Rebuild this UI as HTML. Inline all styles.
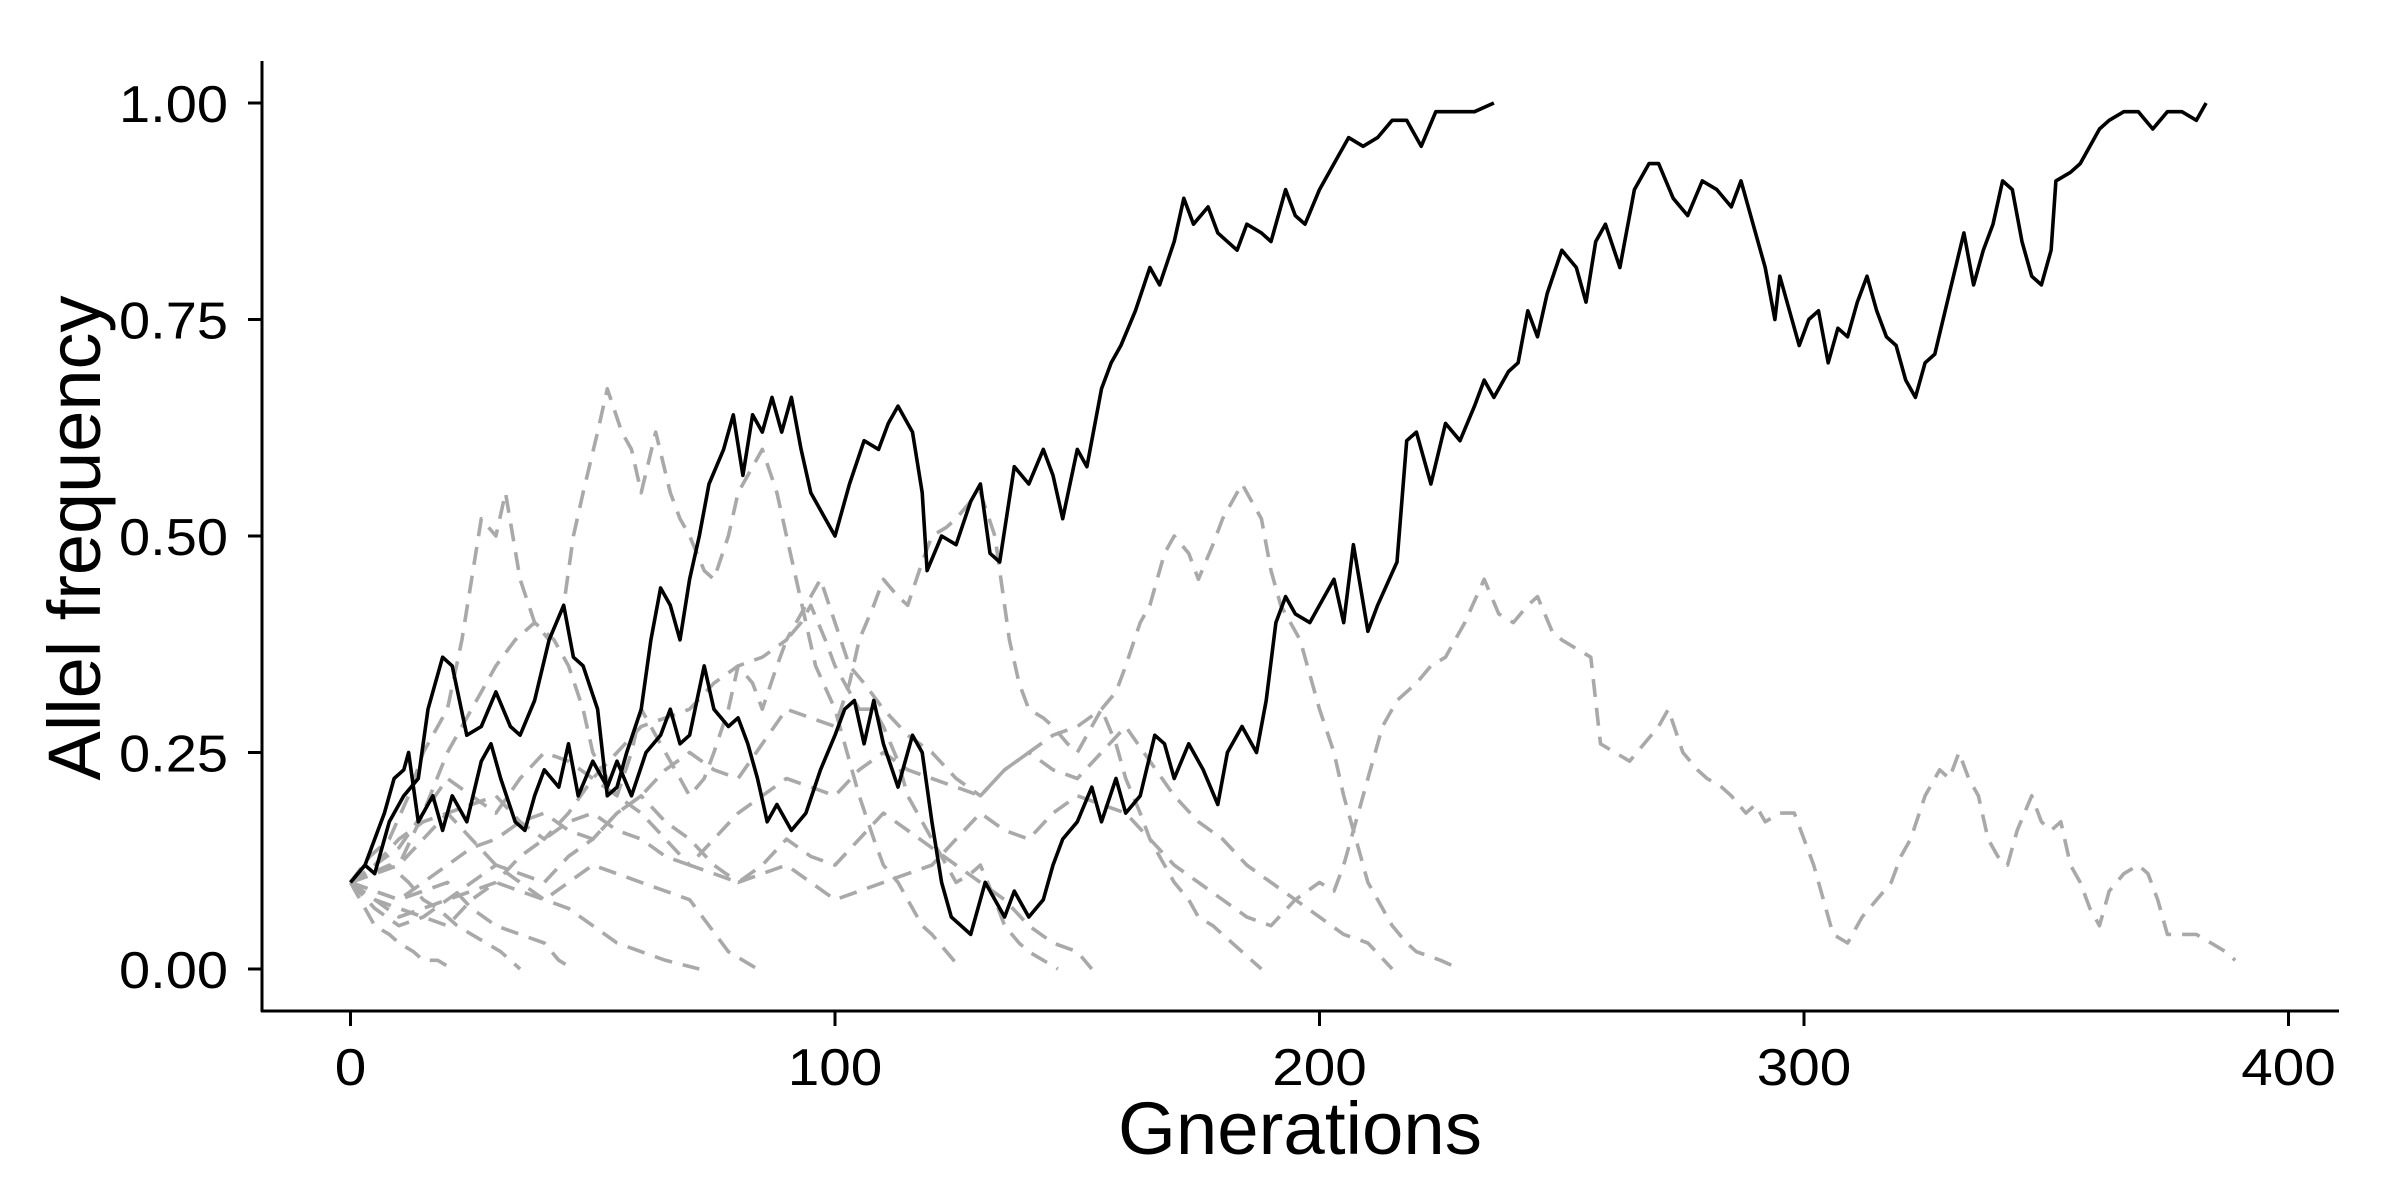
<!DOCTYPE html>
<html><head><meta charset="utf-8"><style>
html,body{margin:0;padding:0;background:#fff;}
svg{display:block;}
text{font-family:"Liberation Sans",Arial,sans-serif;fill:#000;}
</style></head><body>
<svg id="chart" width="2400" height="1200" viewBox="0 0 2400 1200" xmlns="http://www.w3.org/2000/svg">
<rect x="0" y="0" width="2400" height="1200" fill="#fff"/>
<g id="grayLayer"></g>
<g id="blackLayer"></g>
<g id="axes"></g>
<text x="1300" y="1154" font-size="74" text-anchor="middle" textLength="364" lengthAdjust="spacingAndGlyphs">Gnerations</text>
<text transform="translate(100,538) rotate(-90)" font-size="74" text-anchor="middle" textLength="485" lengthAdjust="spacingAndGlyphs">Allel frequency</text>
</svg>
<script>
const xTicks = [0, 100, 200, 300, 400];
const yTicks = [0, 0.25, 0.5, 0.75, 1.0];
const yTickLabels = ["0.00", "0.25", "0.50", "0.75", "1.00"];

const fixedA = [[0,0.10],[3,0.12],[5,0.11],[8,0.17],[11,0.20],[14,0.22],[16,0.30],[19,0.36],[21,0.35],[24,0.27],[27,0.28],[30,0.32],[33,0.28],[35,0.27],[38,0.31],[41,0.38],[44,0.42],[46,0.36],[48,0.35],[51,0.30],[53,0.20],[55,0.21],[57,0.25],[60,0.30],[62,0.38],[64,0.44],[66,0.42],[68,0.38],[70,0.45],[72,0.50],[74,0.56],[77,0.60],[79,0.64],[81,0.57],[83,0.64],[85,0.62],[87,0.66],[89,0.62],[91,0.66],[93,0.60],[95,0.55],[98,0.52],[100,0.50],[103,0.56],[106,0.61],[109,0.60],[111,0.63],[113,0.65],[116,0.62],[118,0.55],[119,0.46],[122,0.50],[125,0.49],[128,0.54],[130,0.56],[132,0.48],[134,0.47],[137,0.58],[140,0.56],[143,0.60],[145,0.57],[147,0.52],[150,0.60],[152,0.58],[155,0.67],[157,0.70],[159,0.72],[162,0.76],[165,0.81],[167,0.79],[170,0.84],[172,0.89],[174,0.86],[177,0.88],[179,0.85],[181,0.84],[183,0.83],[185,0.86],[188,0.85],[190,0.84],[193,0.90],[195,0.87],[197,0.86],[200,0.90],[203,0.93],[206,0.96],[209,0.95],[212,0.96],[215,0.98],[218,0.98],[221,0.95],[224,0.99],[226,0.99],[229,0.99],[232,0.99],[236,1.00]];

const fixedB = [[0,0.10],[3,0.12],[5,0.15],[7,0.18],[9,0.22],[11,0.23],[12,0.25],[14,0.17],[17,0.20],[19,0.16],[21,0.20],[24,0.17],[27,0.24],[29,0.26],[31,0.22],[34,0.17],[36,0.16],[38,0.20],[40,0.23],[43,0.21],[45,0.26],[47,0.20],[50,0.24],[53,0.21],[55,0.24],[58,0.20],[61,0.25],[64,0.27],[66,0.30],[68,0.26],[70,0.27],[73,0.35],[75,0.30],[78,0.28],[80,0.29],[82,0.26],[84,0.22],[86,0.17],[88,0.19],[91,0.16],[94,0.18],[97,0.23],[100,0.27],[102,0.30],[104,0.31],[106,0.26],[108,0.31],[110,0.26],[113,0.21],[116,0.27],[118,0.25],[120,0.17],[122,0.10],[124,0.06],[126,0.05],[128,0.04],[131,0.10],[133,0.08],[135,0.06],[137,0.09],[140,0.06],[143,0.08],[145,0.12],[147,0.15],[150,0.17],[153,0.21],[155,0.17],[158,0.22],[160,0.18],[163,0.20],[166,0.27],[168,0.26],[170,0.22],[173,0.26],[176,0.23],[179,0.19],[181,0.25],[184,0.28],[187,0.25],[189,0.31],[191,0.40],[193,0.43],[195,0.41],[198,0.40],[201,0.43],[203,0.45],[205,0.40],[207,0.49],[210,0.39],[212,0.42],[216,0.47],[218,0.61],[220,0.62],[223,0.56],[226,0.63],[229,0.61],[232,0.65],[234,0.68],[236,0.66],[239,0.69],[241,0.70],[243,0.76],[245,0.73],[247,0.78],[250,0.83],[253,0.81],[255,0.77],[257,0.84],[259,0.86],[262,0.81],[265,0.90],[268,0.93],[270,0.93],[273,0.89],[276,0.87],[279,0.91],[282,0.90],[285,0.88],[287,0.91],[290,0.85],[292,0.81],[294,0.75],[295,0.80],[297,0.76],[299,0.72],[301,0.75],[303,0.76],[305,0.70],[307,0.74],[309,0.73],[311,0.77],[313,0.80],[315,0.76],[317,0.73],[319,0.72],[321,0.68],[323,0.66],[325,0.70],[327,0.71],[330,0.78],[333,0.85],[335,0.79],[337,0.83],[339,0.86],[341,0.91],[343,0.90],[345,0.84],[347,0.80],[349,0.79],[351,0.83],[352,0.91],[355,0.92],[357,0.93],[359,0.95],[361,0.97],[363,0.98],[366,0.99],[369,0.99],[372,0.97],[375,0.99],[378,0.99],[381,0.98],[383,1.00]];

const lost1 = [[0,0.10],[4,0.13],[8,0.15],[12,0.20],[15,0.25],[18,0.28],[20,0.30],[23,0.38],[25,0.45],[27,0.52],[30,0.50],[32,0.55],[35,0.45],[38,0.40],[41,0.38],[44,0.42],[46,0.50],[48,0.55],[51,0.62],[53,0.67],[56,0.62],[58,0.60],[60,0.55],[63,0.62],[66,0.55],[68,0.52],[70,0.50],[73,0.46],[75,0.45],[78,0.50],[80,0.55],[83,0.58],[85,0.60],[88,0.55],[90,0.50],[92,0.45],[94,0.40],[96,0.35],[100,0.30],[103,0.24],[105,0.20],[108,0.15],[110,0.12],[113,0.10],[115,0.08],[118,0.05],[120,0.04],[123,0.02],[126,0.00]];
const lost2 = [[0,0.10],[5,0.11],[10,0.12],[15,0.18],[20,0.25],[25,0.30],[30,0.35],[34,0.38],[38,0.40],[42,0.38],[45,0.35],[48,0.30],[50,0.25],[53,0.22],[55,0.20],[58,0.25],[60,0.30],[63,0.27],[65,0.25],[68,0.22],[70,0.20],[73,0.22],[75,0.25],[78,0.30],[80,0.35],[83,0.33],[85,0.30],[88,0.35],[90,0.38],[93,0.40],[95,0.42],[98,0.38],[100,0.35],[103,0.32],[105,0.30],[108,0.30],[110,0.28],[113,0.24],[115,0.20],[118,0.17],[120,0.15],[123,0.12],[125,0.10],[128,0.11],[130,0.12],[133,0.08],[135,0.05],[138,0.03],[140,0.02],[143,0.01],[146,0.00]];
const lost3 = [[0,0.10],[5,0.09],[10,0.08],[15,0.10],[20,0.12],[25,0.14],[30,0.15],[35,0.17],[40,0.18],[45,0.16],[50,0.15],[55,0.18],[60,0.20],[65,0.23],[70,0.25],[75,0.23],[80,0.22],[85,0.26],[90,0.30],[95,0.29],[100,0.28],[103,0.33],[105,0.38],[108,0.42],[110,0.45],[113,0.43],[115,0.42],[118,0.47],[120,0.50],[123,0.51],[125,0.52],[128,0.54],[130,0.55],[133,0.50],[136,0.38],[138,0.33],[140,0.30],[143,0.29],[145,0.28],[148,0.26],[150,0.25],[153,0.28],[155,0.30],[158,0.26],[160,0.22],[163,0.18],[165,0.15],[168,0.12],[170,0.10],[173,0.08],[175,0.06],[178,0.05],[180,0.04],[184,0.02],[188,0.00]];
const lost4 = [[0,0.10],[5,0.08],[10,0.06],[15,0.07],[20,0.08],[25,0.09],[30,0.10],[35,0.13],[40,0.15],[45,0.17],[50,0.18],[55,0.16],[60,0.15],[65,0.13],[70,0.12],[75,0.15],[80,0.18],[85,0.20],[90,0.22],[95,0.21],[100,0.20],[105,0.23],[110,0.25],[115,0.23],[120,0.22],[125,0.21],[130,0.20],[135,0.23],[140,0.25],[145,0.27],[150,0.28],[155,0.30],[158,0.32],[160,0.35],[163,0.40],[165,0.42],[168,0.48],[170,0.50],[173,0.48],[175,0.45],[178,0.49],[180,0.52],[184,0.56],[186,0.54],[188,0.52],[190,0.46],[192,0.42],[194,0.40],[196,0.38],[198,0.34],[200,0.30],[203,0.25],[205,0.20],[208,0.14],[210,0.10],[213,0.07],[215,0.05],[218,0.03],[220,0.02],[225,0.01],[229,0.00]];
const lost5 = [[0,0.10],[5,0.07],[10,0.05],[15,0.06],[20,0.08],[25,0.10],[30,0.12],[35,0.11],[40,0.10],[45,0.13],[50,0.15],[55,0.18],[60,0.20],[65,0.17],[70,0.15],[75,0.12],[80,0.10],[85,0.11],[90,0.12],[95,0.10],[100,0.08],[105,0.09],[110,0.10],[115,0.11],[120,0.12],[125,0.15],[130,0.18],[135,0.16],[140,0.15],[145,0.18],[150,0.20],[155,0.19],[160,0.18],[165,0.15],[170,0.12],[175,0.10],[180,0.08],[185,0.06],[190,0.05],[195,0.08],[200,0.10],[203,0.09],[205,0.12],[208,0.18],[210,0.22],[213,0.28],[216,0.31],[220,0.33],[223,0.35],[226,0.36],[230,0.40],[234,0.45],[237,0.41],[240,0.40],[243,0.42],[245,0.43],[248,0.39],[250,0.38],[253,0.37],[256,0.36],[258,0.26],[261,0.25],[264,0.24],[267,0.26],[270,0.28],[272,0.30],[275,0.25],[278,0.23],[280,0.22],[283,0.21],[285,0.20],[288,0.18],[290,0.19],[292,0.17],[295,0.18],[298,0.18],[300,0.15],[302,0.12],[304,0.08],[306,0.04],[309,0.03],[312,0.06],[315,0.08],[318,0.10],[320,0.13],[322,0.15],[325,0.20],[328,0.23],[330,0.22],[332,0.25],[334,0.22],[336,0.20],[338,0.15],[340,0.13],[342,0.12],[344,0.16],[347,0.20],[349,0.17],[351,0.16],[353,0.17],[355,0.12],[357,0.10],[359,0.07],[361,0.05],[363,0.09],[366,0.11],[369,0.12],[371,0.11],[373,0.08],[375,0.04],[378,0.04],[381,0.04],[384,0.03],[387,0.02],[389,0.01]];
const lost6 = [[0,0.10],[3,0.07],[5,0.05],[8,0.04],[10,0.03],[13,0.02],[15,0.01],[18,0.01],[21,0.00]];
const lost7 = [[0,0.10],[4,0.11],[8,0.12],[12,0.10],[15,0.08],[18,0.07],[22,0.05],[25,0.04],[28,0.03],[31,0.02],[35,0.00]];
const lost8 = [[0,0.10],[5,0.12],[10,0.15],[15,0.17],[20,0.18],[25,0.15],[30,0.12],[35,0.10],[40,0.08],[45,0.07],[50,0.05],[55,0.03],[60,0.02],[65,0.01],[72,0.00]];
const lost9 = [[0,0.10],[5,0.12],[10,0.14],[15,0.18],[20,0.22],[25,0.20],[30,0.18],[35,0.22],[40,0.25],[45,0.24],[50,0.22],[55,0.20],[60,0.18],[65,0.15],[70,0.12],[75,0.11],[80,0.10],[85,0.12],[90,0.15],[95,0.13],[100,0.12],[105,0.15],[110,0.18],[115,0.16],[120,0.14],[125,0.12],[130,0.10],[135,0.08],[140,0.05],[145,0.03],[150,0.02],[153,0.00]];
const lost10 = [[0,0.10],[5,0.08],[10,0.07],[15,0.06],[20,0.05],[25,0.08],[30,0.10],[35,0.09],[40,0.08],[45,0.10],[50,0.12],[55,0.11],[60,0.10],[65,0.09],[70,0.08],[74,0.05],[78,0.02],[81,0.01],[84,0.00]];
const lost11 = [[0,0.10],[5,0.11],[10,0.12],[15,0.15],[20,0.18],[25,0.19],[30,0.20],[35,0.17],[40,0.15],[45,0.18],[50,0.22],[55,0.25],[60,0.28],[65,0.29],[70,0.30],[75,0.33],[80,0.35],[85,0.36],[90,0.38],[94,0.42],[97,0.45],[100,0.40],[103,0.35],[106,0.33],[110,0.30],[115,0.27],[120,0.25],[125,0.22],[130,0.20],[135,0.23],[140,0.25],[145,0.23],[150,0.22],[155,0.25],[160,0.28],[165,0.24],[170,0.20],[175,0.17],[180,0.15],[185,0.12],[190,0.10],[195,0.08],[200,0.06],[205,0.04],[210,0.03],[215,0.00]];
const lost12 = [[0,0.10],[5,0.09],[10,0.08],[15,0.09],[20,0.10],[25,0.07],[30,0.05],[35,0.04],[40,0.03],[43,0.01],[46,0.00]];

const fixedSeries = [fixedA, fixedB];
const lostSeries = [lost1, lost2, lost3, lost4, lost5, lost6, lost7, lost8, lost9, lost10, lost11, lost12];

const NS = "http://www.w3.org/2000/svg";
const X0 = 350.5, XPX = 4.845;
const Y0 = 969, YPX = 866;
function xs(g){ return X0 + g * XPX; }
function ys(v){ return Y0 - v * YPX; }
function pathD(arr){ return arr.map((p,i)=>(i?"L":"M")+xs(p[0]).toFixed(1)+","+ys(p[1]).toFixed(1)).join(""); }

const gray = document.getElementById("grayLayer");
lostSeries.forEach((s,i)=>{
  const p = document.createElementNS(NS,"path");
  p.setAttribute("d", pathD(s));
  p.setAttribute("fill","none");
  p.setAttribute("stroke","#a9a9a9");
  p.setAttribute("stroke-width","3.6");
  p.setAttribute("stroke-dasharray","18 11");
  p.setAttribute("stroke-linejoin","round");
  
  
  gray.appendChild(p);
});
const black = document.getElementById("blackLayer");
fixedSeries.forEach((s,i)=>{
  const p = document.createElementNS(NS,"path");
  p.setAttribute("d", pathD(s));
  p.setAttribute("fill","none");
  p.setAttribute("stroke","#000");
  p.setAttribute("stroke-width","3.6");
  p.setAttribute("stroke-linejoin","round");
  
  
  black.appendChild(p);
});

const axes = document.getElementById("axes");
function line(x1,y1,x2,y2,name){
  const l = document.createElementNS(NS,"line");
  l.setAttribute("x1",x1); l.setAttribute("y1",y1); l.setAttribute("x2",x2); l.setAttribute("y2",y2);
  l.setAttribute("stroke","#000"); l.setAttribute("stroke-width","3");
  
  
  axes.appendChild(l);
}
line(262,61,262,1012,"y-axis-line");
line(261,1011,2339,1011,"x-axis-line");
yTicks.forEach((v,i)=>{
  line(248,ys(v),262,ys(v),"y-tick");
  const t = document.createElementNS(NS,"text");
  t.setAttribute("x",228); t.setAttribute("y",ys(v)+19);
  t.setAttribute("font-size","52"); t.setAttribute("text-anchor","end");
  t.setAttribute("textLength","109"); t.setAttribute("lengthAdjust","spacingAndGlyphs");
  t.textContent = yTickLabels[i];
  
  
  axes.appendChild(t);
});
xTicks.forEach((g,i)=>{
  line(xs(g),1011,xs(g),1026,"x-tick");
  const t = document.createElementNS(NS,"text");
  t.setAttribute("x",xs(g)); t.setAttribute("y",1085);
  t.setAttribute("font-size","52"); t.setAttribute("text-anchor","middle");
  const s = String(g);
  t.setAttribute("textLength", String(s.length*31.5)); t.setAttribute("lengthAdjust","spacingAndGlyphs");
  t.textContent = s;
  
  
  axes.appendChild(t);
});
</script>
</body></html>
